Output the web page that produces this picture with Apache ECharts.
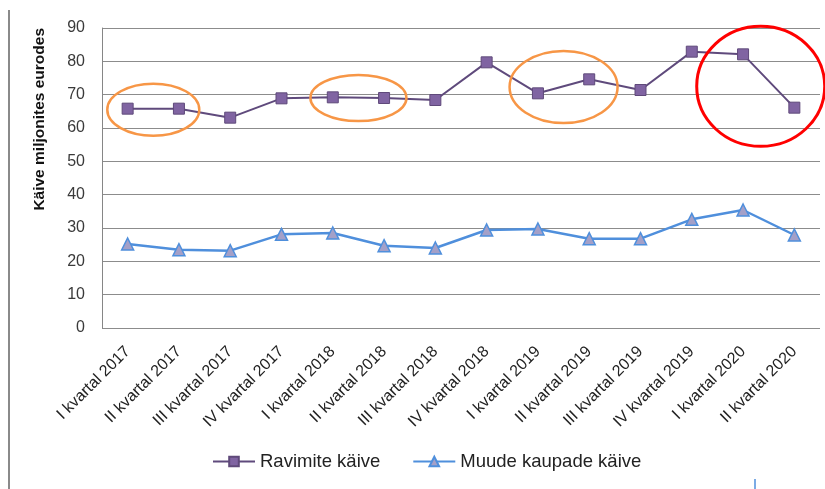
<!DOCTYPE html>
<html>
<head>
<meta charset="utf-8">
<script src="https://cdn.jsdelivr.net/npm/echarts@6/dist/echarts.min.js"></script>
<style>
  html, body { margin: 0; padding: 0; background: #fff; }
  #chart { width: 825px; height: 489px; }
</style>
</head>
<body>
<div id="chart"></div>
<script>
const quarters = [
  'I kvartal 2017', 'II kvartal 2017', 'III kvartal 2017', 'IV kvartal 2017',
  'I kvartal 2018', 'II kvartal 2018', 'III kvartal 2018', 'IV kvartal 2018',
  'I kvartal 2019', 'II kvartal 2019', 'III kvartal 2019', 'IV kvartal 2019',
  'I kvartal 2020', 'II kvartal 2020'
]
const ravimid = [65.8, 65.8, 63.1, 68.9, 69.2, 69.0, 68.4, 79.7, 70.4, 74.6, 71.4, 82.9, 82.1, 66.1]
const muudKaubad = [25.2, 23.5, 23.2, 28.1, 28.5, 24.7, 24.0, 29.4, 29.7, 26.8, 26.8, 32.6, 35.4, 27.9]

// highlighted groups: [first index, last index, value at centre]
const orangeMarks = [[0, 1, 65.5], [4, 5, 69.0], [8, 9, 72.3]]
const redMark = [12, 13, 72.5]

const chart = echarts.init(document.getElementById('chart'))
const font = '"Liberation Sans", Arial, sans-serif'

chart.setOption({
  animation: false,
  grid: { left: 102, right: 5, top: 28, bottom: 161, containLabel: false },
  legend: {
    top: 452,
    left: 212,
    padding: 0,
    itemWidth: 42,
    itemHeight: 12,
    itemGap: 32,
    textStyle: { fontFamily: font, fontSize: 18.5, color: '#222' },
    data: ['Ravimite käive', 'Muude kaupade käive']
  },
  xAxis: {
    type: 'category',
    data: quarters,
    boundaryGap: true,
    axisLine: { show: false },
    axisTick: { show: false },
    axisLabel: {
      rotate: 45,
      interval: 0,
      margin: 21,
      fontFamily: font,
      fontSize: 16,
      color: '#222'
    }
  },
  yAxis: {
    type: 'value',
    min: 0,
    max: 90,
    interval: 10,
    axisLine: { show: true, lineStyle: { color: '#868686', width: 1 } },
    axisTick: { show: false },
    axisLabel: { fontFamily: font, fontSize: 16, color: '#3a3a3a', margin: 17 },
    splitLine: { lineStyle: { color: '#8c8c8c', width: 1 } }
  },
  series: [
    {
      name: 'Ravimite käive',
      type: 'line',
      data: ravimid,
      symbol: 'rect',
      symbolSize: 11,
      lineStyle: { color: '#5f4a7c', width: 2 },
      itemStyle: { color: '#8064a2', borderColor: '#5f497a', borderWidth: 1 }
    },
    {
      name: 'Muude kaupade käive',
      type: 'line',
      data: muudKaubad,
      symbol: 'triangle',
      symbolSize: 12,
      lineStyle: { color: '#4f8fdc', width: 2.5 },
      itemStyle: { color: '#a4a0c8', borderColor: '#4f8fdc', borderWidth: 1.5 }
    }
  ]
})

function markEllipse(m, rx, ry, color, width, dx) {
  const a = chart.convertToPixel({ seriesIndex: 0 }, [m[0], m[2]])
  const b = chart.convertToPixel({ seriesIndex: 0 }, [m[1], m[2]])
  return {
    type: 'ellipse',
    shape: { cx: (a[0] + b[0]) / 2 + (dx || 0), cy: a[1], rx: rx, ry: ry },
    style: { fill: 'none', stroke: color, lineWidth: width },
    z: 100
  }
}

chart.setOption({
  graphic: [
    markEllipse(orangeMarks[0], 46, 26, '#f79646', 2.5),
    markEllipse(orangeMarks[1], 48, 23, '#f79646', 2.5),
    markEllipse(orangeMarks[2], 54, 36, '#f79646', 2.5),
    markEllipse(redMark, 64, 60, '#ff0000', 3, -8),
    {
      type: 'text',
      left: 32,
      top: 28,
      rotation: Math.PI / 2,
      style: {
        text: 'Käive miljonites eurodes',
        font: 'bold 15.5px ' + font,
        fill: '#111'
      }
    },
    {
      type: 'line',
      shape: { x1: 9, y1: 10, x2: 9, y2: 489 },
      style: { stroke: '#8a8a8a', lineWidth: 2 }
    },
    {
      type: 'line',
      shape: { x1: 755, y1: 479, x2: 755, y2: 489 },
      style: { stroke: '#4f8fdc', lineWidth: 1.5 }
    }
  ]
})
</script>
</body>
</html>
